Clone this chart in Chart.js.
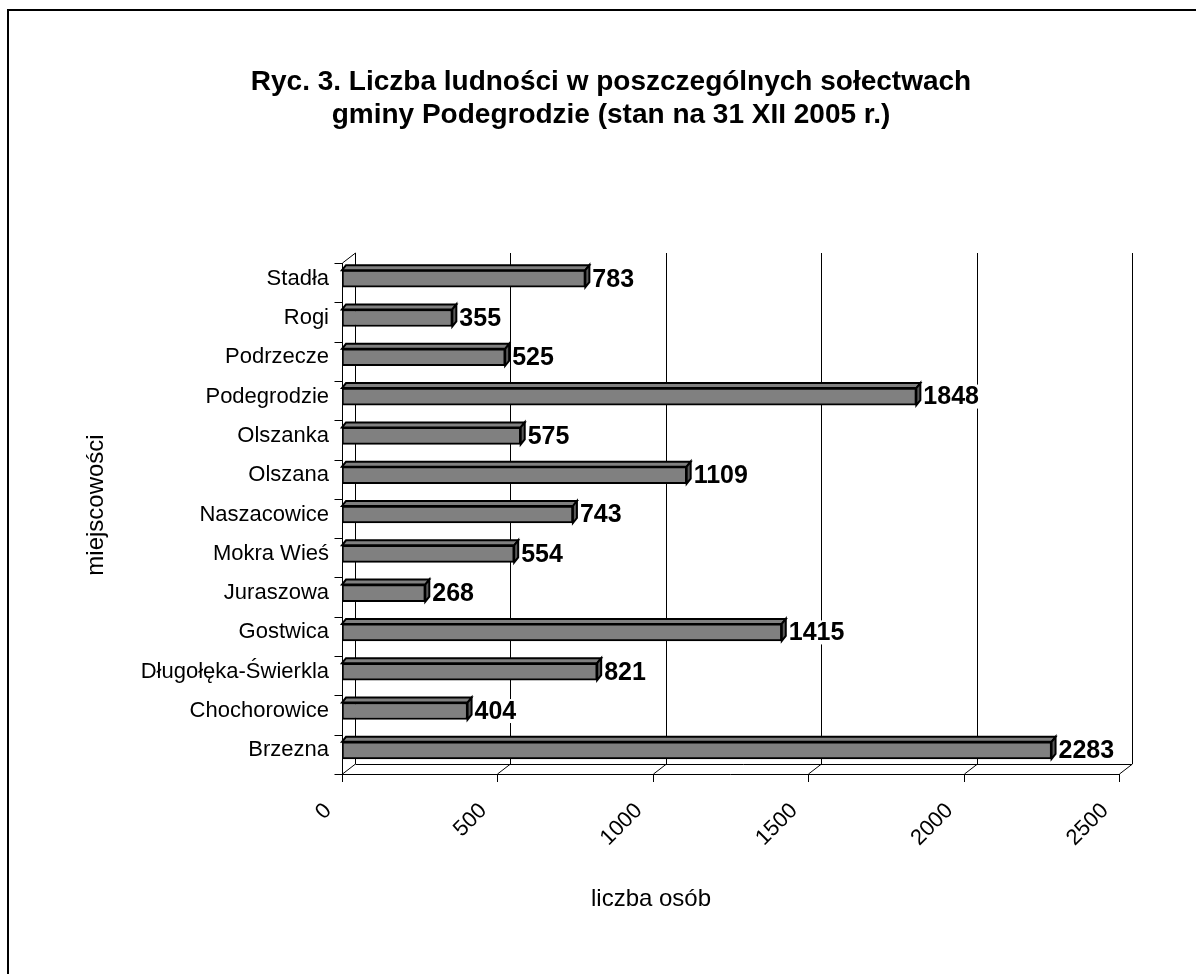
<!DOCTYPE html>
<html>
<head>
<meta charset="utf-8">
<script src="https://cdn.jsdelivr.net/npm/chart.js@4.4.1/dist/chart.umd.min.js"></script>
<style>
    html, body { margin: 0; padding: 0; background: #fff; }
    #wrap { position: relative; width: 1196px; height: 974px; overflow: hidden; }
    #frame {
        position: absolute; left: 7px; top: 9px; width: 1300px; height: 1100px;
        border-left: 2px solid #000; border-top: 2px solid #000;
    }
    #chart { position: absolute; left: 0; top: 0; }
</style>
</head>
<body>
<div id="wrap">
    <div id="frame"></div>
    <canvas id="chart" width="1196" height="974"></canvas>
</div>
<script>
// Data
const categories = ['Stadła', 'Rogi', 'Podrzecze', 'Podegrodzie', 'Olszanka', 'Olszana',
    'Naszacowice', 'Mokra Wieś', 'Juraszowa', 'Gostwica', 'Długołęka-Świerkla',
    'Chochorowice', 'Brzezna'];
const population = [783, 355, 525, 1848, 575, 1109, 743, 554, 268, 1415, 821, 404, 2283];
const xTicks = [0, 500, 1000, 1500, 2000, 2500];

const titleLines = ['Ryc. 3. Liczba ludności w poszczególnych sołectwach',
    'gminy Podegrodzie (stan na 31 XII 2005 r.)'];
const yTitle = 'miejscowości';
const xTitle = 'liczba osób';

const FONT = '"Liberation Sans", Arial, sans-serif';
const DEPTH_X = 13;     // back wall shift
const FRONT_DY = 4;     // front edge below bar band
const BACK_DY = -6;     // back edge above bar band
const BAR_DX = 4, BAR_DY = 5;

// walls, gridlines, floor
const framePlugin = {
    id: 'frame3d',
    beforeDatasetsDraw(chart) {
        const { ctx, chartArea: a, scales: { x, y } } = chart;
        ctx.save();
        ctx.strokeStyle = '#000';
        ctx.lineWidth = 1;
        const fTop = a.top + FRONT_DY, fBot = a.bottom + FRONT_DY;
        const bTop = a.top + BACK_DY, bBot = a.bottom + BACK_DY;

        // back gridlines
        xTicks.forEach(v => {
            const px = Math.round(x.getPixelForValue(v) + DEPTH_X) + 0.5;
            ctx.beginPath();
            ctx.moveTo(px, bTop);
            ctx.lineTo(px, bBot);
            ctx.stroke();
        });

        // left wall
        const lx = Math.round(a.left) + 0.5;
        ctx.beginPath();
        ctx.moveTo(lx, fBot);
        ctx.lineTo(lx, fTop);
        ctx.lineTo(lx + DEPTH_X, bTop);
        ctx.stroke();

        // category ticks on the front edge
        const step = (fBot - fTop) / categories.length;
        for (let i = 0; i <= categories.length; i++) {
            const py = Math.round(fTop + i * step) + 0.5;
            ctx.beginPath();
            ctx.moveTo(lx - 8, py);
            ctx.lineTo(lx, py);
            ctx.stroke();
        }

        // floor
        const rx = x.getPixelForValue(xTicks[xTicks.length - 1]);
        ctx.beginPath();
        ctx.moveTo(lx, Math.round(fBot) + 0.5);
        ctx.lineTo(rx, Math.round(fBot) + 0.5);
        ctx.moveTo(lx + DEPTH_X, Math.round(bBot) + 0.5);
        ctx.lineTo(rx + DEPTH_X, Math.round(bBot) + 0.5);
        ctx.stroke();
        xTicks.forEach(v => {
            const px = Math.round(x.getPixelForValue(v)) + 0.5;
            ctx.beginPath();
            ctx.moveTo(px, fBot + 8);
            ctx.lineTo(px, fBot);
            ctx.lineTo(px + DEPTH_X, bBot);
            ctx.stroke();
        });
        ctx.restore();
    }
};

// top and side faces of the bars + value labels
const barsPlugin = {
    id: 'bars3d',
    afterDatasetsDraw(chart) {
        const { ctx } = chart;
        const meta = chart.getDatasetMeta(0);
        ctx.save();
        ctx.lineWidth = 2;
        ctx.strokeStyle = '#000';
        meta.data.forEach((bar, i) => {
            const p = bar.getProps(['x', 'y', 'base', 'height'], true);
            const x0 = p.base, x1 = p.x;
            const t = p.y - p.height / 2, b = p.y + p.height / 2;

            ctx.fillStyle = '#808080';
            ctx.beginPath();
            ctx.moveTo(x0, t);
            ctx.lineTo(x0 + BAR_DX, t - BAR_DY);
            ctx.lineTo(x1 + BAR_DX, t - BAR_DY);
            ctx.lineTo(x1, t);
            ctx.closePath();
            ctx.fill();
            ctx.stroke();

            ctx.fillStyle = '#5a5a5a';
            ctx.beginPath();
            ctx.moveTo(x1, t);
            ctx.lineTo(x1 + BAR_DX, t - BAR_DY);
            ctx.lineTo(x1 + BAR_DX, b - BAR_DY);
            ctx.lineTo(x1, b);
            ctx.closePath();
            ctx.fill();
            ctx.stroke();

            // value label with white box
            const txt = String(population[i]);
            ctx.font = 'bold 25px ' + FONT;
            const w = ctx.measureText(txt).width;
            const lx = x1 + BAR_DX + 3;
            ctx.fillStyle = '#fff';
            ctx.fillRect(lx - 1, p.y - 12, w + 4, 24);
            ctx.fillStyle = '#000';
            ctx.textAlign = 'left';
            ctx.textBaseline = 'middle';
            ctx.fillText(txt, lx, p.y + 1);
        });
        ctx.restore();
    }
};

// chart title and axis titles
const titlesPlugin = {
    id: 'titles',
    afterDraw(chart) {
        const { ctx } = chart;
        ctx.save();
        ctx.fillStyle = '#000';
        ctx.textAlign = 'center';
        ctx.textBaseline = 'middle';
        ctx.font = 'bold 28px ' + FONT;
        ctx.fillText(titleLines[0], 611, 82);
        ctx.fillText(titleLines[1], 611, 115);

        ctx.font = '24px ' + FONT;
        ctx.fillText(xTitle, 651, 899);
        ctx.translate(96, 505);
        ctx.rotate(-Math.PI / 2);
        ctx.fillText(yTitle, 0, 0);
        ctx.restore();
    }
};

const ctx = document.getElementById('chart');
new Chart(ctx, {
    type: 'bar',
    data: {
        labels: categories,
        datasets: [{
            label: 'liczba osób',
            data: population,
            backgroundColor: '#808080',
            borderColor: '#000',
            borderWidth: 2,
            borderSkipped: false,
            barThickness: 17
        }]
    },
    options: {
        indexAxis: 'y',
        responsive: false,
        animation: false,
        layout: {
            padding: { left: 0, top: 259, right: 77, bottom: 0 }
        },
        scales: {
            x: {
                min: 0,
                max: 2500,
                afterBuildTicks: (scale) => {
                    scale.ticks = xTicks.map(v => ({ value: v }));
                },
                afterFit: (scale) => { scale.height = 974 - 770; },
                grid: { display: false },
                border: { display: false },
                ticks: {
                    color: '#000',
                    font: { family: FONT, size: 22 },
                    minRotation: 45,
                    maxRotation: 45,
                    padding: 20,
                    labelOffset: -14,
                    callback: (v) => String(v)
                }
            },
            y: {
                afterFit: (scale) => { scale.width = 342; },
                grid: { display: false },
                border: { display: false },
                ticks: {
                    color: '#000',
                    font: { family: FONT, size: 22 },
                    padding: 5
                }
            }
        },
        plugins: {
            legend: { display: false },
            tooltip: { enabled: false }
        }
    },
    plugins: [framePlugin, barsPlugin, titlesPlugin]
});
</script>
</body>
</html>
